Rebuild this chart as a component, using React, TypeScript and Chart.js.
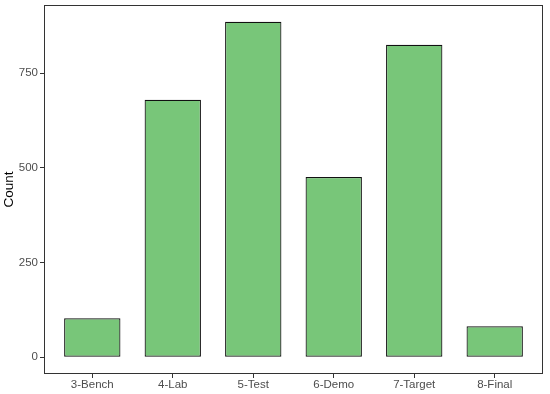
import React, { useEffect, useRef } from "react";
import { Chart, registerables } from "chart.js";

Chart.register(...registerables);

const categories = ["3-Bench", "4-Lab", "5-Test", "6-Demo", "7-Target", "8-Final"];
const counts = [103, 680, 886, 476, 825, 82];
const yTicks = [0, 250, 500, 750];

const panelBorder = {
  id: "panelBorder",
  afterDraw(chart: any) {
    const { ctx, chartArea } = chart;
    ctx.save();
    ctx.strokeStyle = "#333333";
    ctx.lineWidth = 1;
    ctx.strokeRect(
      Math.round(chartArea.left) + 0.5,
      Math.round(chartArea.top) + 0.5,
      Math.round(chartArea.right - chartArea.left) - 1,
      Math.round(chartArea.bottom - chartArea.top) - 1
    );
    ctx.restore();
  },
};

export default function App() {
  const ref = useRef<HTMLCanvasElement>(null);
  useEffect(() => {
    if (!ref.current) return;
    const maxV = Math.max(...counts);
    const span = maxV - 0;
    const chart = new Chart(ref.current, {
      type: "bar",
      data: {
        datasets: [
          {
            data: counts.map((v, i) => ({ x: i + 1, y: v })),
            backgroundColor: "#78C679",
            borderColor: "#111111",
            borderWidth: 1.2,
            borderSkipped: false,
            barPercentage: 0.7,
            categoryPercentage: 1,
          },
        ],
      },
      options: {
        animation: false,
        responsive: false,
        layout: { autoPadding: false, padding: { top: 5, right: 7, left: 0, bottom: 0 } },
        plugins: { legend: { display: false }, tooltip: { enabled: false } },
        scales: {
          x: {
            type: "linear",
            offset: false,
            min: 0.4,
            max: categories.length + 0.6,
            afterBuildTicks: (axis: any) => {
              axis.ticks = categories.map((_, i) => ({ value: i + 1 }));
            },
            afterFit: (scale: any) => {
              scale.height = 20;
              scale.paddingLeft = 0;
              scale.paddingRight = 0;
            },
            grid: {
              display: true,
              offset: false,
              drawOnChartArea: false,
              drawTicks: true,
              tickLength: 4,
              color: "#333333",
            },
            border: { display: false },
            ticks: {
              autoSkip: false,
              maxRotation: 0,
              padding: 0,
              color: "#4D4D4D",
              font: { family: "Liberation Sans, Arial, sans-serif", size: 11.5 },
              callback: (v: any) => categories[Math.round(Number(v)) - 1] ?? "",
            },
          },
          y: {
            type: "linear",
            min: 0 - span * 0.05,
            max: maxV + span * 0.05,
            afterBuildTicks: (axis: any) => {
              axis.ticks = yTicks.map((v) => ({ value: v }));
            },
            afterFit: (scale: any) => {
              scale.width = 44;
              scale.paddingTop = 0;
              scale.paddingBottom = 0;
            },
            grid: {
              display: true,
              drawOnChartArea: false,
              drawTicks: true,
              tickLength: 4,
              color: "#333333",
            },
            border: { display: false },
            ticks: {
              padding: 2,
              color: "#4D4D4D",
              font: { family: "Liberation Sans, Arial, sans-serif", size: 11.5 },
            },
            title: {
              display: true,
              text: "Count",
              color: "#000000",
              padding: { top: 1, bottom: 0 },
              font: { family: "Liberation Sans, Arial, sans-serif", size: 13.5 },
            },
          },
        },
      },
      plugins: [panelBorder],
    });
    return () => chart.destroy();
  }, []);
  return (
    <div style={{ position: "fixed", left: 0, top: 0, width: 550, height: 394, background: "#fff" }}>
      <canvas ref={ref} width={550} height={394} style={{ width: 550, height: 394, display: "block" }} />
    </div>
  );
}
